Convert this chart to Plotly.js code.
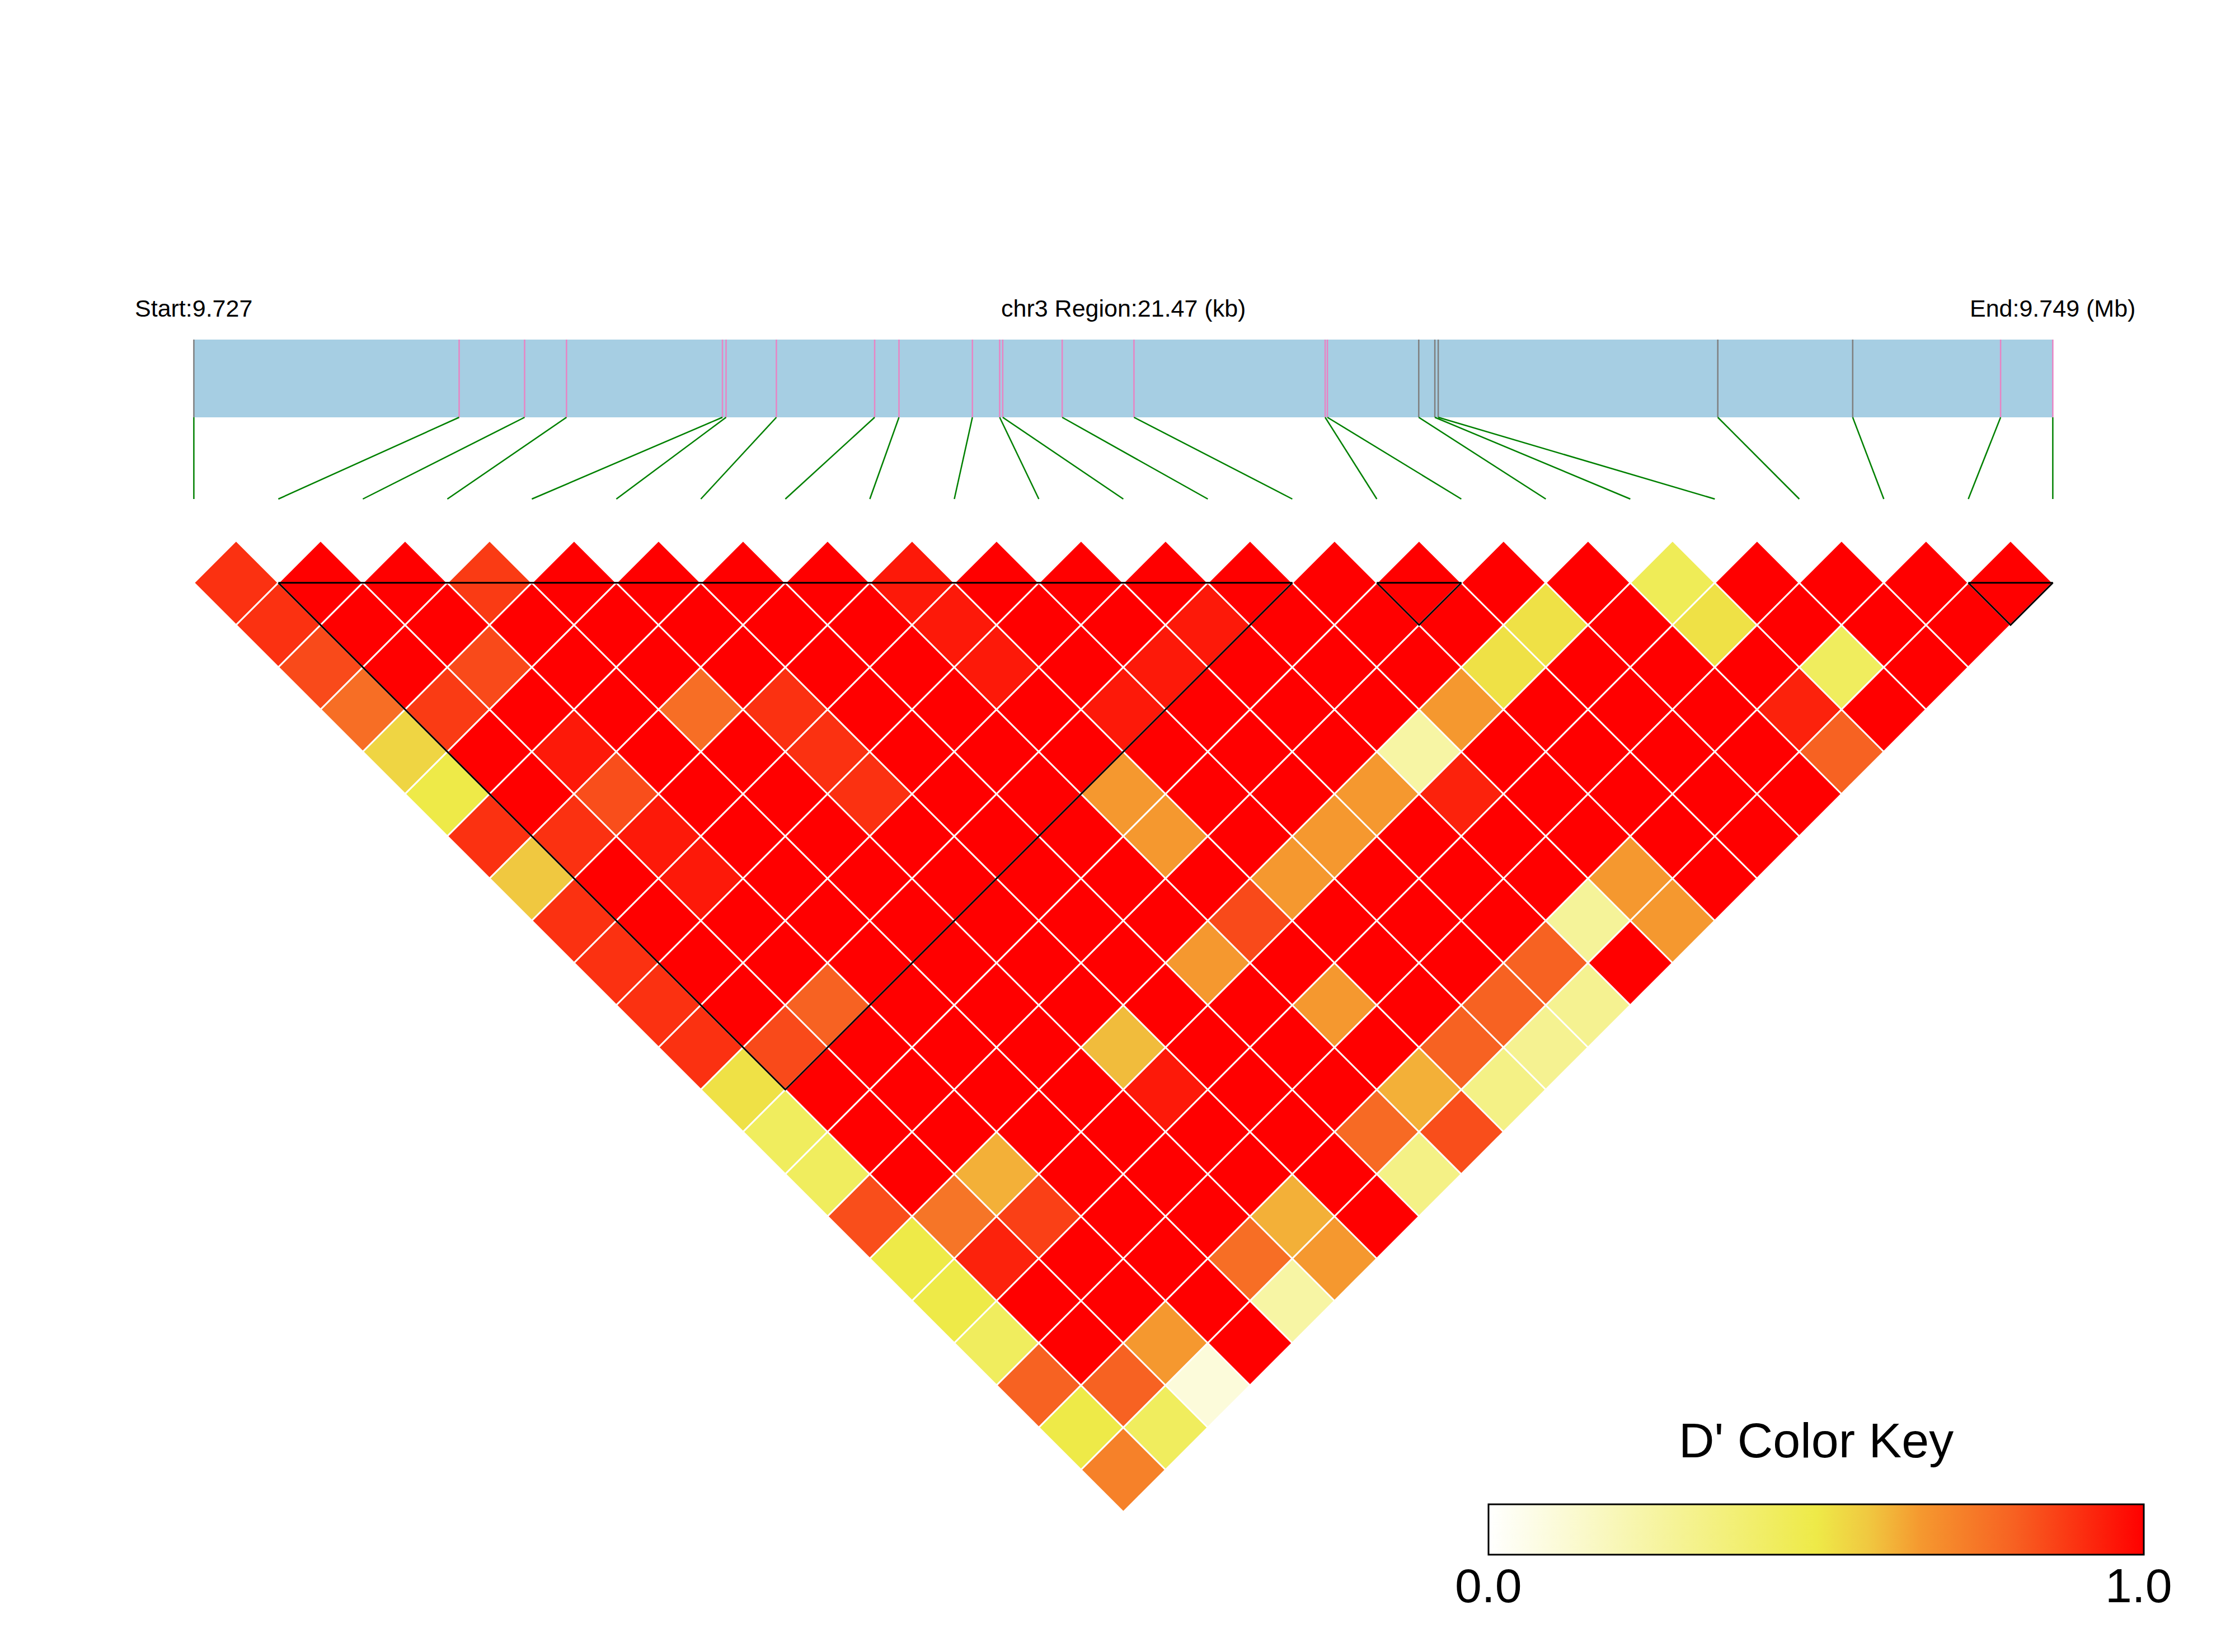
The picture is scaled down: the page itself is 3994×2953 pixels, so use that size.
<!DOCTYPE html>
<html>
<head>
<meta charset="utf-8">
<script src="https://cdn.plot.ly/plotly-3.0.1.min.js"></script>
<style>html,body{margin:0;padding:0;background:#fff;}#chart{width:3994px;height:2953px;}</style>
</head>
<body>
<div id="chart"></div>
<script>
// ---------------- data ----------------
const chrom = 'chr3';
const regionStart = 9727300;
const regionEnd = 9748770;
const snpIds = ['SNP1','SNP2','SNP3','SNP4','SNP5','SNP6','SNP7','SNP8','SNP9','SNP10','SNP11','SNP12',
                'SNP13','SNP14','SNP15','SNP16','SNP17','SNP18','SNP19','SNP20','SNP21','SNP22','SNP23'];
const snpPos = [9727300, 9730364, 9731120, 9731604, 9733405, 9733447, 9734028, 9735163, 9735444,
                9736292, 9736607, 9736642, 9737329, 9738158, 9740366, 9740392, 9741447, 9741633,
                9741672, 9744901, 9746459, 9748167, 9748770];
// D' between SNP i and SNP j (j = i+1 .. last), one row per SNP i
const dPrimeRows = [
  [0.90,0.90,0.85,0.77,0.55,0.50,0.90,0.58,0.90,0.90,0.90,0.90,0.52,0.44,0.44,0.84,0.50,0.50,0.44,0.80,0.50,0.72],
  [1,1,1,0.88,1,1,0.90,1,1,1,1,0.85,1,1,1,0.75,0.93,1,1,0.80,0.44],
  [1,1,0.85,1,0.95,0.84,0.95,0.95,1,1,0.80,1,1,1,0.62,0.87,1,1,0.66,0.10],
  [0.88,1,1,1,1,1,1,1,1,1,1,1,1,1,1,1,1,1,1],
  [1,1,1,0.77,1,1,1,1,1,1,1,1,1,1,1,1,0.77,0.25],
  [1,1,1,0.90,0.90,0.90,1,1,1,1,1,0.60,0.95,1,1,0.62,0.66],
  [1,1,1,1,1,1,1,1,1,1,1,1,1,1,1,1],
  [1,1,1,1,1,1,1,1,1,0.66,1,1,1,0.78,0.33],
  [0.95,0.95,0.95,1,1,0.66,0.66,1,0.85,1,0.66,1,0.62,0.84],
  [1,1,1,0.95,1,1,1,0.66,1,1,1,0.80,0.33],
  [1,1,0.95,1,1,1,0.66,1,1,1,0.80,0.30],
  [1,0.95,1,1,1,0.66,1,1,1,0.80,0.30],
  [1,1,1,1,0.25,0.93,1,1,0.28,1],
  [1,1,1,0.66,1,1,1,0.66,0.66],
  [1,1,0.52,1,1,1,1,1],
  [1,0.52,1,1,1,1,1],
  [1,1,1,1,1,1],
  [0.46,0.52,1,0.93,0.80],
  [1,1,0.44,1],
  [1,1,1],
  [1,1],
  [1]
];
const blocks = [[1,13],[14,15],[21,22]];
const keyTickVals = [0, 1];
const keyTickText = ['0.0', '1.0'];

// ---------------- geometry / style ----------------
const W = 3994, H = 2953;
const PX = 151;          // pixels per SNP step
const X0 = 346.4;        // pixel of SNP index 0
const Y0 = 966.2;        // pixel of the top tips of the first diamond row
const py = p => (p - Y0) / PX;     // pixel row -> y data
const FONT = 'Liberation Sans, Arial, sans-serif';
const nSnp = snpPos.length;
const gx = bp => (bp - regionStart) / (regionEnd - regionStart) * (nSnp - 1);

// colour key placement (pixels)
const KEY_L = 2660, KEY_LEN = 1171, KEY_TOP = 2689, KEY_THICK = 90;

const colorscale = [
  [0.00, '#ffffff'],
  [0.50, '#eeea48'],
  [0.58, '#f0c840'],
  [0.66, '#f5982f'],
  [0.80, '#f76222'],
  [1.00, '#ff0000']
];

// cells
const cx = [], cy = [], cv = [], ct = [];
dPrimeRows.forEach((row, i) => {
  row.forEach((v, k) => {
    const j = i + 1 + k;
    cx.push((i + j) / 2);
    cy.push((j - i) / 2);
    cv.push(v);
    ct.push(snpIds[i] + ' - ' + snpIds[j] + ': D\'=' + v);
  });
});

const traces = [];
traces.push({
  type: 'scatter', mode: 'markers', x: cx, y: cy, text: ct, hoverinfo: 'text',
  marker: {
    symbol: 'diamond', size: (PX / 2) * 2 / 1.3, color: cv,
    colorscale: colorscale, cmin: 0, cmax: 1,
    line: {color: '#ffffff', width: 3},
    showscale: true,
    colorbar: {
      orientation: 'h', x: KEY_L / W, xanchor: 'left', y: 1 - KEY_TOP / H, yanchor: 'top',
      len: KEY_LEN, lenmode: 'pixels', thickness: KEY_THICK, thicknessmode: 'pixels',
      outlinewidth: 3, outlinecolor: '#000000', xpad: 0, ypad: 0,
      tickvals: keyTickVals, ticks: '', showticklabels: false,
      title: {text: ''}
    }
  },
  showlegend: false
});

// LD blocks
const bx = [], by = [];
blocks.forEach(([a, b]) => {
  bx.push(a, b, (a + b) / 2, a, null);
  by.push(0.5, 0.5, 0.5 + (b - a) / 2, 0.5, null);
});
traces.push({type: 'scatter', mode: 'lines', x: bx, y: by, line: {color: '#000000', width: 3},
             hoverinfo: 'skip', showlegend: false});

// region bar lines
const barTop = py(607), barBot = py(746), conBot = py(892);
const inBlock = k => blocks.some(([a, b]) => k >= a && k <= b);
const pinkX = [], pinkY = [], grayX = [], grayY = [];
snpPos.forEach((bp, k) => {
  const xs = inBlock(k) ? pinkX : grayX, ys = inBlock(k) ? pinkY : grayY;
  xs.push(gx(bp), gx(bp), null); ys.push(barTop, barBot, null);
});
traces.push({type: 'scatter', mode: 'lines', x: grayX, y: grayY, line: {color: '#7f7f7f', width: 2.5},
             hoverinfo: 'skip', showlegend: false});
traces.push({type: 'scatter', mode: 'lines', x: pinkX, y: pinkY, line: {color: '#e884c4', width: 2.5},
             hoverinfo: 'skip', showlegend: false});
// connectors
const lx = [], ly = [];
snpPos.forEach((bp, k) => { lx.push(gx(bp), k, null); ly.push(barBot, conBot, null); });
traces.push({type: 'scatter', mode: 'lines', x: lx, y: ly, line: {color: '#008000', width: 2.5},
             hoverinfo: 'skip', showlegend: false});

const textY = py(551);
const annotations = [
  {xref: 'x', yref: 'y', x: 0, y: textY, text: 'Start:' + (regionStart / 1e6).toFixed(3),
   showarrow: false, xanchor: 'center', yanchor: 'middle', font: {family: FONT, size: 43, color: '#000'}},
  {xref: 'x', yref: 'y', x: (nSnp - 1) / 2, y: textY,
   text: chrom + ' Region:' + ((regionEnd - regionStart) / 1000).toFixed(2) + ' (kb)',
   showarrow: false, xanchor: 'center', yanchor: 'middle', font: {family: FONT, size: 43, color: '#000'}},
  {xref: 'x', yref: 'y', x: nSnp - 1, y: textY, text: 'End:' + (regionEnd / 1e6).toFixed(3) + ' (Mb)',
   showarrow: false, xanchor: 'center', yanchor: 'middle', font: {family: FONT, size: 43, color: '#000'}},
  {xref: 'paper', yref: 'paper', x: (KEY_L + KEY_LEN / 2) / W, y: 1 - 2574 / H, text: "D' Color Key",
   showarrow: false, xanchor: 'center', yanchor: 'middle', font: {family: FONT, size: 88, color: '#000'}}
];
keyTickVals.forEach((v, k) => {
  annotations.push({xref: 'paper', yref: 'paper', x: (KEY_L + v * KEY_LEN - (v === 1 ? 9 : 0)) / W,
    y: 1 - 2834 / H, text: keyTickText[k], showarrow: false, xanchor: 'center', yanchor: 'middle',
    font: {family: FONT, size: 86, color: '#000'}});
});

const layout = {
  width: W, height: H,
  margin: {l: 0, r: 0, t: 0, b: 0, autoexpand: false},
  paper_bgcolor: '#ffffff', plot_bgcolor: '#ffffff',
  showlegend: false,
  xaxis: {range: [-X0 / PX, (W - X0) / PX], visible: false, showgrid: false, zeroline: false, fixedrange: true},
  yaxis: {range: [(H - Y0) / PX, -Y0 / PX], visible: false, showgrid: false, zeroline: false, fixedrange: true},
  shapes: [{type: 'rect', xref: 'x', yref: 'y', x0: 0, x1: nSnp - 1, y0: barTop, y1: barBot,
            fillcolor: '#a6cee3', line: {width: 0}, layer: 'below'}],
  annotations: annotations
};

Plotly.newPlot('chart', traces, layout, {staticPlot: true, displayModeBar: false});
</script>
</body>
</html>
